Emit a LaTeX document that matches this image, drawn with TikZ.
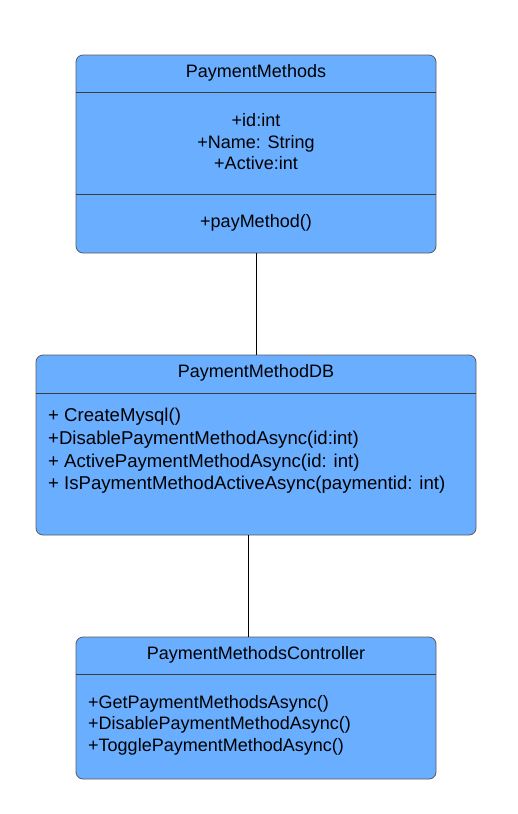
\documentclass[tikz,border=0pt]{standalone}
\usepackage{fontspec}
\setmainfont{Liberation Sans}
\usetikzlibrary{positioning, calc}
\definecolor{umlblue}{RGB}{106,174,255}
\definecolor{edgegray}{RGB}{90,90,90}
\definecolor{rulegray}{RGB}{60,60,60}

\tikzset{
    classbox/.style={draw=edgegray, fill=umlblue, rounded corners=7pt, line width=0.8pt, inner sep=0pt},
    divider/.style={draw=rulegray, line width=0.7pt},
    classtext/.style={inner sep=0pt, font=\fontsize{18}{21.5}\selectfont},
    link/.style={draw=black, line width=0.6pt}
}

\begin{document}
\begin{tikzpicture}[x=1pt, y=-1pt]
    \useasboundingbox (0,0) rectangle (517,814);

    % class boxes
    \node[classbox, minimum width=360pt, minimum height=198pt] (pm) at (256,154) {};
    \node[classbox, minimum width=440pt, minimum height=180pt] (pmdb) at (256,445) {};
    \node[classbox, minimum width=360pt, minimum height=142pt] (pmc) at (256,708) {};

    % compartments
    \draw[divider] (pm.west |- 0,92) -- (pm.east |- 0,92);
    \draw[divider] (pm.west |- 0,194) -- (pm.east |- 0,194);
    \draw[divider] (pmdb.west |- 0,393) -- (pmdb.east |- 0,393);
    \draw[divider] (pmc.west |- 0,674) -- (pmc.east |- 0,674);

    % texts
    \node[classtext] (pmname) at (256,73) {PaymentMethods};
    \node[classtext, align=center] (pmattr) at (256,142) {+id:int\\+Name: String\\+Active:int};
    \node[classtext] (pmop) at (256,223) {+payMethod()};

    \node[classtext] (pmdbname) at (256,373) {PaymentMethodDB};
    \node[classtext, align=left, anchor=west, font=\fontsize{18.6}{22.7}\selectfont] (pmdbop) at (48,451)
        {+ CreateMysql()\\+DisablePaymentMethodAsync(id:int)\\+ ActivePaymentMethodAsync(id: int)\\+ IsPaymentMethodActiveAsync(paymentid: int)};

    \node[classtext] (pmcname) at (256,655) {PaymentMethodsController};
    \node[classtext, align=left, anchor=west] (pmcop) at (88,725)
        {+GetPaymentMethodsAsync()\\+DisablePaymentMethodAsync()\\+TogglePaymentMethodAsync()};

    % associations
    \draw[link] (pm.south) -- (pmdb.north);
    \draw[link] ([xshift=-8pt]pmdb.south) -- ([xshift=-8pt]pmc.north);
\end{tikzpicture}
\end{document}
